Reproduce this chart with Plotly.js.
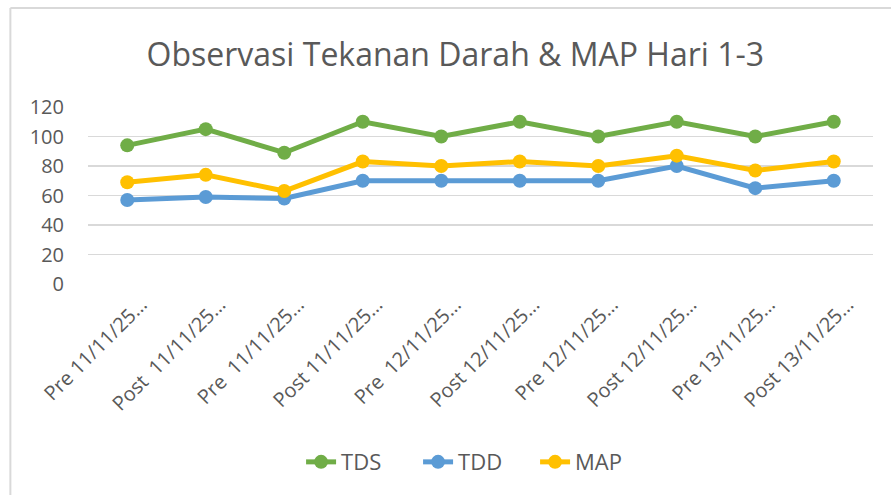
<!DOCTYPE html>
<html>
<head>
<meta charset="utf-8">
<script src="https://cdn.plot.ly/plotly-3.0.1.min.js"></script>
<style>html,body{margin:0;padding:0;background:#fff;}#chart{width:891px;height:495px;}</style>
</head>
<body>
<div id="chart"></div>
<script>
const labels = ["Pre 11/11/25…", "Post  11/11/25…", "Pre  11/11/25…", "Post 11/11/25…", "Pre  12/11/25…",
                "Post 12/11/25…", "Pre 12/11/25…", "Post 12/11/25…", "Pre 13/11/25…", "Post 13/11/25…"];
const tds = [94, 105, 89, 110, 100, 110, 100, 110, 100, 110];
const tdd = [57, 59, 58, 70, 70, 70, 70, 80, 65, 70];
const map = [69, 74, 63, 83, 80, 83, 80, 87, 77, 83];
const yTicks = [0, 20, 40, 60, 80, 100, 120];

const idx = labels.map((_, i) => i);
const FONT = "Open Sans, Calibri, sans-serif";
function tr(name, y, color) {
  return {x: idx, y: y, name: name, type: "scatter", mode: "lines+markers",
    line: {color: color, width: 5}, marker: {color: color, size: 14}};
}
const data = [tr("TDS", tds, "#70AD47"), tr("TDD", tdd, "#5B9BD5"), tr("MAP", map, "#FFC000")];
const layout = {
  width: 891, height: 495,
  margin: {l: 88, r: 18, t: 107, b: 211},
  paper_bgcolor: "#fff", plot_bgcolor: "#fff",
  font: {family: FONT, color: "#595959"},
  title: {text: "Observasi Tekanan Darah & MAP Hari 1-3", font: {family: FONT, size: 32, color: "#595959"},
          x: 0.511, xanchor: "center", y: 0.889, yanchor: "middle", xref: "container", yref: "container"},
  xaxis: {range: [-0.5, 9.5], tickvals: idx, ticktext: labels, tickangle: -45,
          showgrid: false, zeroline: false, showline: false, ticks: "",
          ticklabelshift: 14, ticklabelstandoff: 4,
          tickfont: {family: FONT, size: 20, color: "#595959"}, fixedrange: true},
  yaxis: {range: [0, 120], tickvals: yTicks, showgrid: true, gridcolor: "#D9D9D9", gridwidth: 1.5,
          zeroline: false, showline: false, ticks: "outside", ticklen: 19, tickcolor: "rgba(0,0,0,0)",
          tickfont: {family: FONT, size: 20, color: "#595959"}, fixedrange: true},
  showlegend: true,
  legend: {orientation: "h", x: 0.495, xanchor: "center", y: -1.006, yanchor: "middle",
           entrywidth: 72, entrywidthmode: "pixels",
           font: {family: FONT, size: 22, color: "#595959"}, bgcolor: "rgba(0,0,0,0)"},
  shapes: [
    {type: "line", xref: "paper", yref: "paper", x0: -0.0989, x1: 1.03, y0: 1.559, y1: 1.559,
     line: {color: "#D9D9D9", width: 2}},
    {type: "line", xref: "paper", yref: "paper", x0: -0.0989, x1: -0.0989, y0: 1.559, y1: -1.2,
     line: {color: "#D9D9D9", width: 2}}
  ]
};
Plotly.newPlot("chart", data, layout, {staticPlot: true, displayModeBar: false});
</script>
</body>
</html>
